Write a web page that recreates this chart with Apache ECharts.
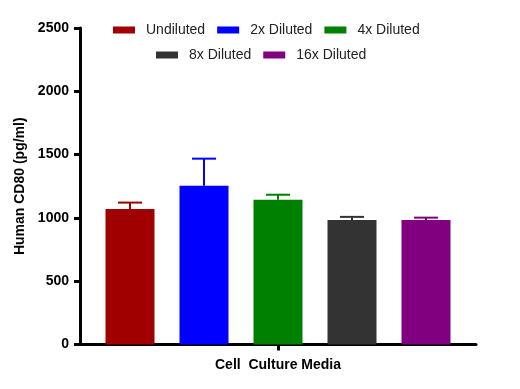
<!DOCTYPE html>
<html>
<head>
<meta charset="utf-8">
<script src="https://cdn.jsdelivr.net/npm/echarts@6/dist/echarts.min.js"></script>
<style>html,body{margin:0;padding:0;background:#fff}#c{width:520px;height:389px}</style>
</head>
<body>
<div id="c"></div>
<script>
var categories = ['Cell  Culture Media'];
var seriesNames = ['Undiluted', '2x Diluted', '4x Diluted', '8x Diluted', '16x Diluted'];
var means = [1071, 1254, 1143, 984, 984];
var errors = [50, 214, 40, 24, 18];
var colors = ['#a00000', '#0000ff', '#008000', '#333333', '#800080'];
var yTicks = [0, 500, 1000, 1500, 2000, 2500];

var BAR_W = 49, GAP_PX = 25;
var chart = echarts.init(document.getElementById('c'));
var series = [];
seriesNames.forEach(function (n, i) {
  series.push({
    name: n, type: 'bar', barWidth: BAR_W, barGap: (GAP_PX / BAR_W * 100) + '%',
    itemStyle: { color: colors[i] }, data: [means[i]], z: 2
  });
});
seriesNames.forEach(function (n, i) {
  series.push({
    name: n + ' err', type: 'custom', z: 3,
    data: [[0, means[i], means[i] + errors[i]]],
    renderItem: function (params, api) {
      var lo = api.coord([api.value(0), api.value(1)]);
      var hi = api.coord([api.value(0), api.value(2)]);
      var x = lo[0] + (i - 2) * (BAR_W + GAP_PX);
      var cap = 12;
      return {
        type: 'group', children: [
          { type: 'line', shape: { x1: x, y1: lo[1], x2: x, y2: hi[1] }, style: { stroke: colors[i], lineWidth: 2 } },
          { type: 'line', shape: { x1: x - cap, y1: hi[1], x2: x + cap, y2: hi[1] }, style: { stroke: colors[i], lineWidth: 2 } }
        ]
      };
    }
  });
});

var legendCommon = {
  itemWidth: 22, itemHeight: 7, itemGap: 12, icon: 'rect',
  textStyle: { fontFamily: 'Liberation Sans, Arial', fontSize: 14, color: '#222', padding: [0, 0, 0, 6] }
};
chart.setOption({
  animation: false,
  grid: { left: 80, right: 44, top: 28, bottom: 44.5 },
  legend: [
    Object.assign({ data: seriesNames.slice(0, 3), left: 108, top: 18 }, legendCommon),
    Object.assign({ data: seriesNames.slice(3), left: 151, top: 43 }, legendCommon)
  ],
  xAxis: {
    type: 'category', data: categories,
    name: categories[0], nameLocation: 'middle', nameGap: 14,
    nameTextStyle: { fontFamily: 'Liberation Sans, Arial', fontWeight: 'bold', fontSize: 14, color: '#000' },
    axisLine: { lineStyle: { color: '#000', width: 3 } },
    axisTick: { show: true, alignWithLabel: true, length: 6, lineStyle: { width: 3, color: '#000' } },
    axisLabel: { show: false }
  },
  yAxis: {
    type: 'value', min: yTicks[0], max: yTicks[yTicks.length - 1], interval: 500,
    name: 'Human CD80 (pg/ml)', nameLocation: 'middle', nameGap: 46,
    nameTextStyle: { fontFamily: 'Liberation Sans, Arial', fontWeight: 'bold', fontSize: 14, color: '#000' },
    axisLine: { show: true, lineStyle: { color: '#000', width: 3 } },
    axisTick: { show: true, length: 6, lineStyle: { width: 3, color: '#000' } },
    axisLabel: { fontFamily: 'Liberation Sans, Arial', fontWeight: 'bold', fontSize: 14, color: '#000', margin: 11,
      formatter: function (v) { return String(v); } },
    splitLine: { show: false }
  },
  series: series
});
</script>
</body>
</html>
